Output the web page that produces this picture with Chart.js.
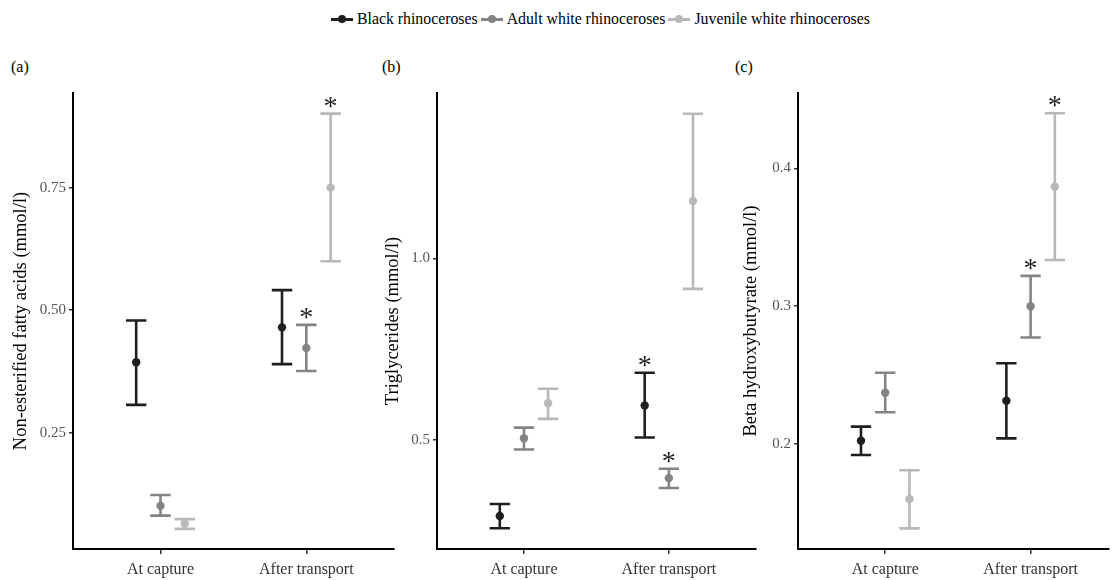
<!DOCTYPE html>
<html>
<head>
<meta charset="utf-8">
<script src="https://cdn.jsdelivr.net/npm/chart.js@4.4.1/dist/chart.umd.min.js"></script>
<style>
  body { margin: 0; width: 1113px; height: 580px; overflow: hidden; background: #fff;
         font-family: "Liberation Serif", serif; position: relative; }
  .panel { position: absolute; top: 40px; height: 540px; }
  .tag { position: absolute; top: 58px; font-size: 16px; color: #000; }
  #legend { position: absolute; top: 10px; left: 331px; display: flex; align-items: center;
            font-size: 15.8px; color: #000; white-space: nowrap; }
  .key { position: relative; display: inline-block; width: 22px; height: 18px; margin-right: 4px; }
  .key::before { content: ""; position: absolute; left: 0; right: 0; top: 8px; height: 2.5px; background: var(--c); }
  .key::after { content: ""; position: absolute; left: 7px; top: 5px; width: 8px; height: 8px; border-radius: 50%; background: var(--c); }
  .item { display: flex; align-items: center; margin-right: 3px; }
</style>
</head>
<body>
<div id="legend"></div>
<div class="tag" style="left:11px">(a)</div>
<div class="tag" style="left:382px">(b)</div>
<div class="tag" style="left:735px">(c)</div>
<div class="panel" style="left:0px;width:398px"><canvas id="chartA" width="398" height="540"></canvas></div>
<div class="panel" style="left:375px;width:385px"><canvas id="chartB" width="385" height="540"></canvas></div>
<div class="panel" style="left:735px;width:378px"><canvas id="chartC" width="378" height="540"></canvas></div>
<script>
const timepoints = ['At capture', 'After transport'];
const groups = ['Black rhinoceroses', 'Adult white rhinoceroses', 'Juvenile white rhinoceroses'];
const colors = ['#1f1f1f', '#848484', '#b8b8b8'];

// rows: black, adult white, juvenile white; columns: at capture, after transport
const nefaMean = [[0.394, 0.465], [0.101, 0.423], [0.065, 0.750]];
const nefaLow  = [[0.307, 0.390], [0.081, 0.376], [0.054, 0.600]];
const nefaHigh = [[0.479, 0.541], [0.123, 0.470], [0.074, 0.901]];
const nefaStar = [[false, false], [false, true], [false, true]];

const trigMean = [[0.291, 0.595], [0.505, 0.395], [0.601, 1.158]];
const trigLow  = [[0.257, 0.507], [0.474, 0.368], [0.558, 0.916]];
const trigHigh = [[0.324, 0.685], [0.534, 0.421], [0.641, 1.398]];
const trigStar = [[false, true], [false, true], [false, false]];

const bhbMean = [[0.2024, 0.2314], [0.2372, 0.300], [0.160, 0.3867]];
const bhbLow  = [[0.192, 0.2041], [0.223, 0.2773], [0.1388, 0.3335]];
const bhbHigh = [[0.2126, 0.2586], [0.2517, 0.322], [0.181, 0.440]];
const bhbStar = [[false, false], [false, true], [false, true]];

const nefaTicks = [0.25, 0.50, 0.75];
const nefaTickLabels = ['0.25', '0.50', '0.75'];
const trigTicks = [0.5, 1.0];
const trigTickLabels = ['0.5', '1.0'];
const bhbTicks = [0.2, 0.3, 0.4];
const bhbTickLabels = ['0.2', '0.3', '0.4'];

const dodge = [-1 / 6, 0, 1 / 6];
const capHalf = 0.07;
const serif = '"Liberation Serif", serif';

// legend
const legend = document.getElementById('legend');
groups.forEach((g, i) => {
  const it = document.createElement('div');
  it.className = 'item';
  it.innerHTML = '<span class="key" style="--c:' + colors[i] + '"></span><span>' + g + '</span>';
  legend.appendChild(it);
});

const errorBars = {
  id: 'errorBars',
  beforeDatasetsDraw(chart) {
    const { ctx, scales: { x, y } } = chart;
    chart.data.datasets.forEach(ds => {
      ds.data.forEach((p, i) => {
        const px = x.getPixelForValue(p.x);
        const l = x.getPixelForValue(p.x - capHalf), r = x.getPixelForValue(p.x + capHalf);
        const lo = y.getPixelForValue(ds.errLow[i]), hi = y.getPixelForValue(ds.errHigh[i]);
        ctx.save();
        ctx.strokeStyle = ds.borderColor;
        ctx.lineWidth = 2.6;
        ctx.beginPath();
        ctx.moveTo(px, lo); ctx.lineTo(px, hi);
        ctx.moveTo(l, lo); ctx.lineTo(r, lo);
        ctx.moveTo(l, hi); ctx.lineTo(r, hi);
        ctx.stroke();
        ctx.restore();
      });
    });
  },
  afterDatasetsDraw(chart) {
    const { ctx, scales: { x, y } } = chart;
    ctx.save();
    ctx.fillStyle = '#222';
    ctx.font = '28px ' + serif;
    ctx.textAlign = 'center';
    ctx.textBaseline = 'alphabetic';
    chart.data.datasets.forEach(ds => {
      ds.data.forEach((p, i) => {
        if (!ds.stars[i]) return;
        ctx.fillText('*', x.getPixelForValue(p.x), y.getPixelForValue(ds.errHigh[i]) + 1);
      });
    });
    ctx.restore();
  }
};

function makePanel(id, title, means, lows, highs, stars, yMin, yMax, yTicks, yTickLabels, xMax, yWidth, titlePad) {
  return new Chart(document.getElementById(id), {
    type: 'scatter',
    data: {
      datasets: groups.map((g, gi) => ({
        label: g,
        data: timepoints.map((t, ti) => ({ x: ti + 1 + dodge[gi], y: means[gi][ti] })),
        errLow: lows[gi],
        errHigh: highs[gi],
        stars: stars[gi],
        backgroundColor: colors[gi],
        borderColor: colors[gi],
        pointRadius: 4.2,
        pointHoverRadius: 4.2,
        borderWidth: 0
      }))
    },
    options: {
      responsive: false,
      animation: false,
      layout: { padding: { top: 53, left: 0, right: 0, bottom: 0 } },
      plugins: { legend: { display: false }, tooltip: { enabled: false } },
      scales: {
        x: {
          type: 'linear',
          min: 0.4,
          max: xMax,
          afterBuildTicks: s => { s.ticks = timepoints.map((t, i) => ({ value: i + 1 })); },
          afterFit: s => { s.height = 31; },
          ticks: { callback: v => timepoints[v - 1], font: { family: serif, size: 16 }, color: '#333', padding: 6, maxRotation: 0 },
          grid: { drawOnChartArea: false, tickLength: 5, color: '#333', lineWidth: 1.5 },
          border: { display: true, color: '#000', width: 2 }
        },
        y: {
          min: yMin,
          max: yMax,
          afterBuildTicks: s => { s.ticks = yTicks.map(v => ({ value: v })); },
          afterFit: s => { s.width = yWidth; },
          ticks: { callback: v => yTickLabels[yTicks.indexOf(v)], font: { family: serif, size: 15 }, color: '#555', padding: 3 },
          grid: { drawOnChartArea: false, tickLength: 4, color: '#333', lineWidth: 1.5 },
          border: { display: true, color: '#000', width: 2 },
          title: { display: true, text: title, font: { family: serif, size: 18.5 }, color: '#000', padding: { top: titlePad, bottom: 0 } }
        }
      }
    },
    plugins: [errorBars]
  });
}

makePanel('chartA', 'Non-esterified fatty acids (mmol/l)', nefaMean, nefaLow, nefaHigh, nefaStar,
  0.013, 0.943, nefaTicks, nefaTickLabels, 2.6, 73, 10);
makePanel('chartB', 'Triglycerides (mmol/l)', trigMean, trigLow, trigHigh, trigStar,
  0.2, 1.455, trigTicks, trigTickLabels, 2.6, 62, 7);
makePanel('chartC', 'Beta hydroxybutyrate (mmol/l)', bhbMean, bhbLow, bhbHigh, bhbStar,
  0.1238, 0.4547, bhbTicks, bhbTickLabels, 2.538, 63, 5);
</script>
</body>
</html>
